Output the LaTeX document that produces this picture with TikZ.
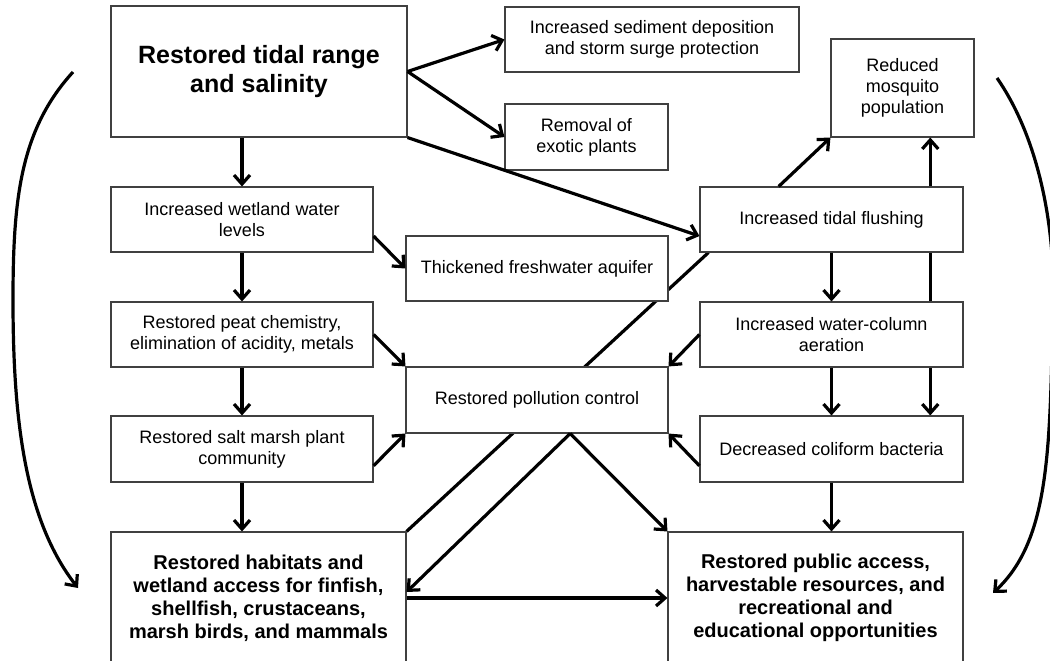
\documentclass[tikz,border=0pt]{standalone}
\usepackage{fontspec}
\setmainfont{Liberation Sans}
\usetikzlibrary{arrows.meta,calc,backgrounds}
\begin{document}
\begin{tikzpicture}[x=1pt,y=-1pt,
  box/.style={draw=black!75, line width=1.1pt, fill=white, rectangle, align=center, inner sep=0pt,
    font=\fontsize{18}{21}\selectfont},
  bigbox/.style={box, font=\fontsize{20}{23}\selectfont\bfseries},
  arr/.style={line width=3.2pt, -{Straight Barb[length=9pt,width=16pt]}},
  plain/.style={line width=3.2pt}]
\useasboundingbox (0,0) rectangle (1050,661);

% boxes
\node[box, font=\fontsize{25}{29}\selectfont\bfseries, minimum width=296pt, minimum height=131pt] (A) at (259,71.5) {Restored tidal range\\and salinity};
\node[box, minimum width=294pt, minimum height=65pt] (B) at (652,39.5) {Increased sediment deposition\\and storm surge protection};
\node[box, minimum width=163pt, minimum height=66pt] (C) at (586.5,137) {Removal of\\exotic plants};
\node[box, minimum width=143pt, minimum height=98pt] (D) at (902.5,88) {Reduced\\mosquito\\population};
\node[box, minimum width=263pt, minimum height=65pt] (E) at (831.5,219.5) {Increased tidal flushing};
\node[box, minimum width=262pt, minimum height=65pt] (F) at (537,268.5) {Thickened freshwater aquifer};
\node[box, minimum width=262pt, minimum height=65pt] (G) at (242,219.5) {Increased wetland water\\levels};
\node[box, minimum width=262pt, minimum height=65pt] (H) at (242,334.5) {Restored peat chemistry,\\elimination of acidity, metals};
\node[box, minimum width=262pt, minimum height=66pt] (I) at (242,449) {Restored salt marsh plant\\community};
\node[box, minimum width=262pt, minimum height=66pt] (K) at (537,400) {Restored pollution control};
\node[box, minimum width=263pt, minimum height=65pt] (L) at (831.5,334.5) {Increased water-column\\aeration};
\node[box, minimum width=263pt, minimum height=66pt] (M) at (831.5,449) {Decreased coliform bacteria};
\node[bigbox, minimum width=295pt, minimum height=132pt] (J) at (258.5,598) {Restored habitats and\\wetland access for finfish,\\shellfish, crustaceans,\\marsh birds, and mammals};
\node[bigbox, minimum width=295pt, minimum height=132pt] (N) at (815.5,598) {Restored public access,\\harvestable resources, and\\recreational and\\educational opportunities};

% lines that run behind boxes
\begin{pgfonlayer}{background}
  \draw[plain] (J.north east) -- ($(E.south west)+(9,0)$);
  \coordinate (eb) at ($(E.south west)!0.874!(E.south east)$);
  \draw[arr] (eb) -- (eb |- M.north);
\end{pgfonlayer}

% connectors
\draw[arr] (A.east) -- (B.west);
\draw[arr] (A.east) -- (C.west);
\draw[arr] (A.south east) -- ($(E.west)!0.5!(E.south west)$);
\draw[arr] (A.south -| G.north) -- (G.north);
\draw[arr] ($(G.east)!0.5!(G.south east)$) -- (F.west);
\draw[arr] (G.south) -- (H.north);
\draw[arr] (H.east) -- (K.north west);
\draw[arr] (H.south) -- (I.north);
\draw[arr] ($(I.east)!0.5!(I.south east)$) -- (K.south west);
\draw[arr] (I.south) -- (I.south |- J.north);

\coordinate (et) at ($(E.north west)!0.3!(E.north east)$);
\draw[arr] (et) -- (D.south west);
\coordinate (et2) at ($(E.north west)!0.874!(E.north east)$);
\draw[arr] (et2) -- (et2 |- D.south);
\draw[arr] (E.south) -- (L.north);
\draw[arr] (L.south) -- (M.north);
\draw[arr] (L.west) -- (K.north east);
\draw[arr] ($(M.west)!0.5!(M.south west)$) -- (K.south east);
\draw[arr] (M.south) -- (M.south |- N.north);

\coordinate (kb) at ($(K.south west)!0.626!(K.south east)$);
\draw[arr] (kb) -- (N.north west);
\draw[arr] (kb) -- ($(J.east)+(0,-6)$);
\draw[arr] (J.east) -- (N.west);

% side loops
\coordinate (ls) at (73,72);
\coordinate (le) at (78,588);
\draw[arr] (ls) .. controls (20,130) and (13,200) .. (13,300)
  .. controls (13,420) and (25,520) .. (le);
\coordinate (rs) at (997,78);
\coordinate (re) at (993,593);
\draw[arr] (rs) .. controls (1040,140) and (1055,230) .. (1053,300)
  .. controls (1050,450) and (1050,540) .. (re);
\end{tikzpicture}
\end{document}
